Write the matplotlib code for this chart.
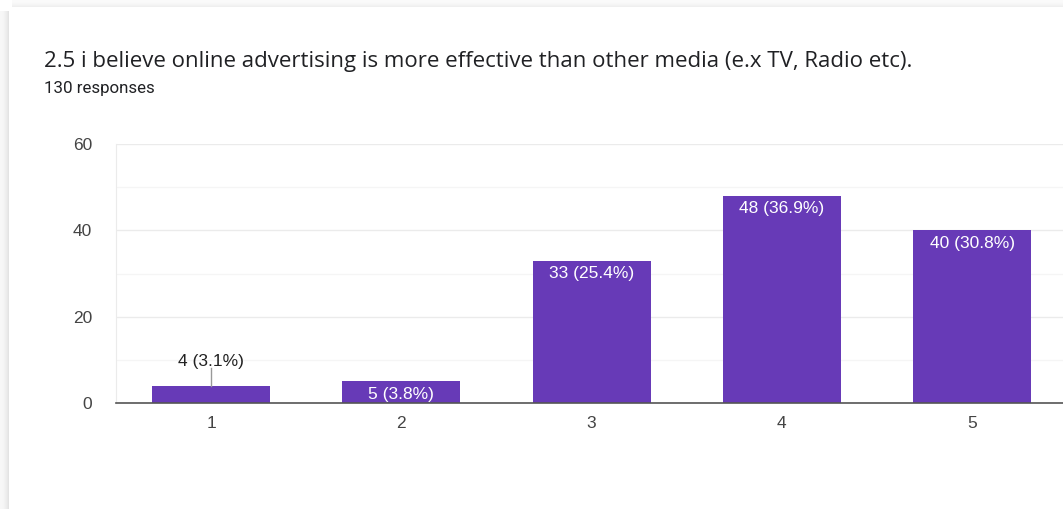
import numpy as np
import matplotlib.pyplot as plt
from matplotlib.patches import Rectangle

categories = ["1", "2", "3", "4", "5"]
counts = [4, 5, 33, 48, 40]
total_responses = 130
title = "2.5 i believe online advertising is more effective than other media (e.x TV, Radio etc)."
subtitle = f"{total_responses} responses"
y_ticks = [0, 20, 40, 60]

W, H = 1063, 509
fig = plt.figure(figsize=(W / 100, H / 100), dpi=100)
fig.patch.set_facecolor("white")
plt.rcParams["font.family"] = ["Liberation Sans", "DejaVu Sans"]

# card shadow along the left and top edges
bg = fig.add_axes([0, 0, 1, 1], zorder=-10)
bg.set_xlim(0, W)
bg.set_ylim(H, 0)
bg.axis("off")
card_x, card_y = 9, 7
for i in range(card_x):
    a = 0.03 + 0.10 * (i / card_x) ** 2
    bg.add_patch(Rectangle((i, card_y + 4), 1, H, color="black", alpha=a, lw=0))
for j in range(card_y):
    a = 0.02 + 0.06 * (j / card_y) ** 2
    bg.add_patch(Rectangle((card_x + 3, j), W, 1, color="black", alpha=a, lw=0))
bg.add_patch(Rectangle((card_x, card_y), W, H, color="white", lw=0))

fig.text(44 / W, 1 - 61.5 / H, title, fontsize=16, color="#202124",
         va="center", ha="left", family=["Open Sans", "DejaVu Sans"])
fig.text(44 / W, 1 - 88 / H, subtitle, fontsize=12.2, color="#202124",
         va="center", ha="left", family=["Roboto", "DejaVu Sans"])

# plot area
x0_px, x1_px = 115.9, 1067.2
y0_px, y1_px = 403, 144
ax = fig.add_axes([x0_px / W, 1 - y0_px / H, (x1_px - x0_px) / W, (y0_px - y1_px) / H])
ax.set_xlim(0.5, 5.5)
ax.set_ylim(0, 60)
x = np.arange(1, len(categories) + 1)
bar_color = "#673AB7"
ax.bar(x, counts, width=0.62, color=bar_color, zorder=3)

ax.set_yticks(y_ticks)
ax.set_yticks([10, 30, 50], minor=True)
ax.grid(axis="y", which="major", color="#ebebeb", lw=1, zorder=0)
ax.grid(axis="y", which="minor", color="#f5f5f5", lw=1, zorder=0)
ax.set_xticks(x)
ax.set_xticklabels(categories)
ax.tick_params(axis="both", which="both", length=0, labelsize=12.5, labelcolor="#444444")
ax.tick_params(axis="x", pad=9)
ax.tick_params(axis="y", pad=17)
for s in ["top", "right"]:
    ax.spines[s].set_visible(False)
ax.spines["left"].set_color("#ebebeb")
ax.spines["bottom"].set_color("#555555")
ax.spines["bottom"].set_linewidth(1.2)
ax.spines["bottom"].set_zorder(4)

for xi, c in zip(x, counts):
    label = f"{c} ({c / total_responses * 100:.1f}%)"
    if c >= 10:
        ax.text(xi, c - 1.3, label, ha="center", va="top", color="white",
                fontsize=12.5, zorder=5)
    elif c >= 5:
        ax.text(xi, c / 2 - 0.6, label, ha="center", va="center", color="white",
                fontsize=12.5, zorder=5)
    else:
        ax.plot([xi, xi], [c, c + 4.0], color="#999999", lw=1, zorder=4)
        ax.text(xi, c + 3.9, label, ha="center", va="bottom", color="#222222",
                fontsize=12.5, zorder=5)

fig.savefig("out.png", dpi=100)
